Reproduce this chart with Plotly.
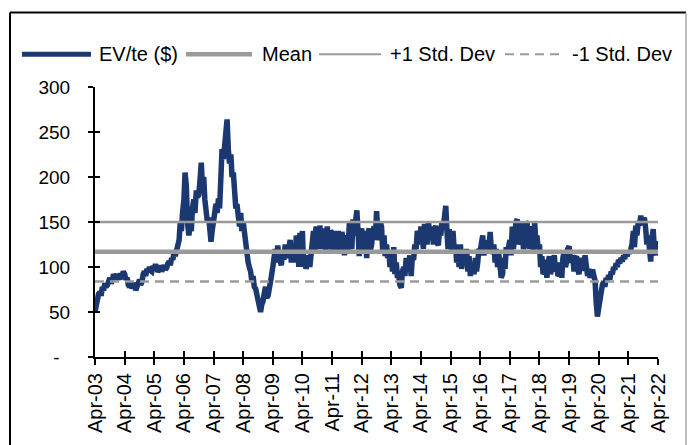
import pandas as pd
import plotly.graph_objects as go

# EV/te ($): readings at the start of each month, Apr-03 .. Apr-22
month_starts = pd.date_range("2003-04-01", "2022-04-01", freq="MS")
ev_te_start = [
    50, 64, 72, 78, 82, 80, 88, 85, 90, 92, 86, 90,            # Apr-03 .. Mar-04
    92, 88, 78, 76, 82, 78, 86, 84, 95, 98, 100, 95,           # Apr-04 .. Mar-05
    98, 100, 97, 95, 102, 99, 106, 110, 116, 120, 130, 140,    # Apr-05 .. Mar-06
    175, 190, 135, 140, 175, 185, 180, 216, 200, 160, 155, 128,  # Apr-06 .. Mar-07
    155, 170, 176, 210, 220, 255, 230, 225, 205, 165, 150, 160,  # Apr-07 .. Mar-08
    150, 117, 105, 95, 90, 76, 60, 50, 62, 78, 68, 80,         # Apr-08 .. Mar-09
    100, 120, 124, 105, 118, 125, 110, 130, 115, 105, 128, 138,  # Apr-09 .. Mar-10
    140, 110, 105, 100, 125, 115, 138, 146, 120, 140, 145, 120,  # Apr-10 .. Mar-11
    138, 140, 117, 130, 139, 113, 130, 150, 120, 135, 163, 112,  # Apr-11 .. Mar-12
    143, 120, 110, 143, 125, 145, 162, 130, 145, 135, 125, 118,  # Apr-12 .. Mar-13
    115, 122, 105, 90, 77, 100, 110, 105, 90, 108, 120, 135,   # Apr-13 .. Mar-14
    145, 120, 135, 150, 130, 125, 146, 124, 135, 145, 168, 120,  # Apr-14 .. Mar-15
    130, 140, 125, 115, 125, 110, 105, 95, 90, 100, 110, 105,  # Apr-15 .. Mar-16
    118, 135, 125, 130, 139, 115, 105, 100, 95, 92, 98, 115,   # Apr-16 .. Mar-17
    130, 145, 140, 153, 130, 145, 125, 148, 120, 140, 150, 135,  # Apr-17 .. Mar-18
    125, 112, 95, 88, 112, 98, 113, 100, 92, 88, 118, 105,     # Apr-18 .. Mar-19
    123, 105, 95, 112, 92, 110, 100, 95, 98, 93, 90, 60,       # Apr-19 .. Mar-20
    55, 76, 84, 88, 91, 95, 100, 104, 108, 110, 113, 115,      # Apr-20 .. Mar-21
    117, 120, 140, 146, 150, 157, 150, 142, 135, 106, 142, 113,  # Apr-21 .. Mar-22
    125,                                                        # Apr-22
]

# EV/te ($): mid-month readings, Apr-03 .. Mar-22
mid_months = pd.date_range("2003-04-01", "2022-03-01", freq="MS") + pd.Timedelta(days=14)
ev_te_mid = [
    58, 70, 68, 74, 78, 86, 82, 92, 86, 88, 93, 95,            # 2003-04
    86, 80, 84, 80, 74, 84, 80, 92, 90, 95, 96, 101,           # 2004-05
    103, 95, 102, 100, 97, 104, 102, 108, 112, 125, 150, 160,  # 2005-06
    205, 150, 145, 165, 160, 178, 195, 190, 175, 150, 135, 140,  # 2006-07
    160, 160, 165, 231, 240, 264, 215, 200, 185, 170, 145, 140,  # 2007-08
    140, 110, 100, 85, 78, 70, 52, 58, 70, 66, 75, 90,         # 2008-09
    110, 105, 110, 102, 108, 112, 120, 105, 125, 135, 100, 112,  # 2009-10
    100, 98, 113, 112, 140, 145, 120, 125, 140, 118, 125, 140,  # 2010-11
    115, 120, 140, 115, 120, 135, 118, 125, 153, 150, 140, 135,  # 2011-12
    115, 140, 135, 118, 139, 130, 140, 150, 118, 112, 110, 100,  # 2012-13
    95, 92, 88, 80, 95, 90, 95, 113, 110, 125, 140, 125,       # 2013-14
    130, 148, 125, 140, 145, 138, 128, 140, 150, 155, 140, 142,  # 2014-15
    117, 120, 105, 100, 98, 118, 120, 112, 105, 92, 95, 120,   # 2015-16
    130, 113, 120, 118, 120, 125, 120, 115, 88, 110, 122, 128,  # 2016-17
    113, 120, 150, 125, 148, 120, 150, 130, 145, 118, 125, 120,  # 2017-18
    100, 92, 108, 104, 92, 108, 95, 90, 105, 110, 100, 120,    # 2018-19
    110, 113, 110, 98, 105, 96, 113, 90, 88, 97, 85, 45,       # 2019-20
    68, 80, 78, 85, 86, 92, 97, 100, 104, 106, 109, 112,       # 2020-21
    115, 125, 122, 135, 146, 148, 155, 125, 112, 130, 118, 128,  # 2021-22
]

mean_val = 117
plus_sd = 150
minus_sd = 84

year_ticks = pd.date_range("2003-04-01", "2022-04-01", freq="12MS")
year_labels = [d.strftime("Apr-%y") for d in year_ticks]
y_ticks = [0, 50, 100, 150, 200, 250, 300]
y_labels = ["-\u00a0\u00a0", "50", "100", "150", "200", "250", "300"]

series = (
    pd.concat([pd.Series(ev_te_start, index=month_starts),
               pd.Series(ev_te_mid, index=mid_months)])
    .sort_index()
)

NAVY = "#1c3870"
GREY = "#9a9a9a"
FONT = "Liberation Sans, Arial, sans-serif"

W, H = 688, 445
L, R, T, B = 95, 30, 87, 86
PW, PH = W - L - R, H - T - B


def px(x):
    return (x - L) / PW


def py(y):
    return (H - B - y) / PH


fig = go.Figure()
fig.add_trace(go.Scatter(x=series.index, y=series.values, mode="lines", name="EV/te ($)",
                         line=dict(color=NAVY, width=5.5), xaxis="x", yaxis="y"))

span = [month_starts[0], month_starts[-1]]
fig.add_trace(go.Scatter(x=span, y=[mean_val] * 2, mode="lines", name="Mean",
                         line=dict(color=GREY, width=4.5), xaxis="x2", yaxis="y2"))
fig.add_trace(go.Scatter(x=span, y=[plus_sd] * 2, mode="lines", name="+1 Std. Dev",
                         line=dict(color=GREY, width=2.5), xaxis="x2", yaxis="y2"))
fig.add_trace(go.Scatter(x=span, y=[minus_sd] * 2, mode="lines", name="-1 Std. Dev",
                         line=dict(color=GREY, width=2.5, dash="9px,6px"),
                         xaxis="x2", yaxis="y2"))

xr = [year_ticks[0], year_ticks[-1]]
axis_common = dict(showgrid=False, zeroline=False, tickcolor="black", tickwidth=2)

fig.update_layout(
    width=W, height=H,
    margin=dict(l=L, r=R, t=T, b=B),
    paper_bgcolor="white", plot_bgcolor="white",
    showlegend=False,
    font=dict(family=FONT, color="black", size=19),
    xaxis=dict(range=xr, tickvals=year_ticks, ticktext=year_labels, tickangle=-90,
               ticks="outside", ticklen=6, showline=True, linecolor="black",
               linewidth=2, tickfont=dict(size=20), **axis_common),
    yaxis=dict(range=[0, 300], tickvals=y_ticks, ticktext=y_labels,
               ticks="outside", ticklen=5, showline=True, linecolor="black",
               linewidth=2, tickfont=dict(size=19), ticklabelstandoff=14,
               **axis_common),
    xaxis2=dict(range=xr, overlaying="x", anchor="y2", tickvals=year_ticks,
                ticks="inside", ticklen=6, showticklabels=False, showline=False,
                **axis_common),
    yaxis2=dict(range=[0, 300], overlaying="y", anchor="x2", side="left",
                tickvals=y_ticks, ticks="inside", ticklen=5, showticklabels=False,
                showline=False, **axis_common),
)

# Chart frame
shapes = [
    dict(type="line", xref="paper", yref="paper", x0=px(10), x1=px(10), y0=py(12), y1=py(460),
         line=dict(color="black", width=2)),
    dict(type="line", xref="paper", yref="paper", x0=px(10), x1=px(686), y0=py(12), y1=py(12),
         line=dict(color="black", width=2)),
    dict(type="line", xref="paper", yref="paper", x0=px(686), x1=px(686), y0=py(12), y1=py(460),
         line=dict(color="#a8a8a8", width=1.5)),
]

# Legend row
legend_items = [
    (22, 91, 97, "EV/te ($)", dict(color=NAVY, width=5)),
    (186, 252, 260, "Mean", dict(color=GREY, width=4.5)),
    (319, 381, 388, "+1 Std. Dev", dict(color=GREY, width=2)),
    (505, 563, 570, "-1 Std. Dev", dict(color=GREY, width=2, dash="9px,6px")),
]
LEG_Y = 54
annotations = []
for x0, x1, xt, label, ln in legend_items:
    shapes.append(dict(type="line", xref="paper", yref="paper", x0=px(x0), x1=px(x1),
                       y0=py(LEG_Y), y1=py(LEG_Y), line=ln))
    annotations.append(dict(xref="paper", yref="paper", x=px(xt), y=py(LEG_Y),
                            text=label, showarrow=False, xanchor="left",
                            yanchor="middle", font=dict(size=20, family=FONT)))

fig.update_layout(shapes=shapes, annotations=annotations)
fig.write_html("out.html")
